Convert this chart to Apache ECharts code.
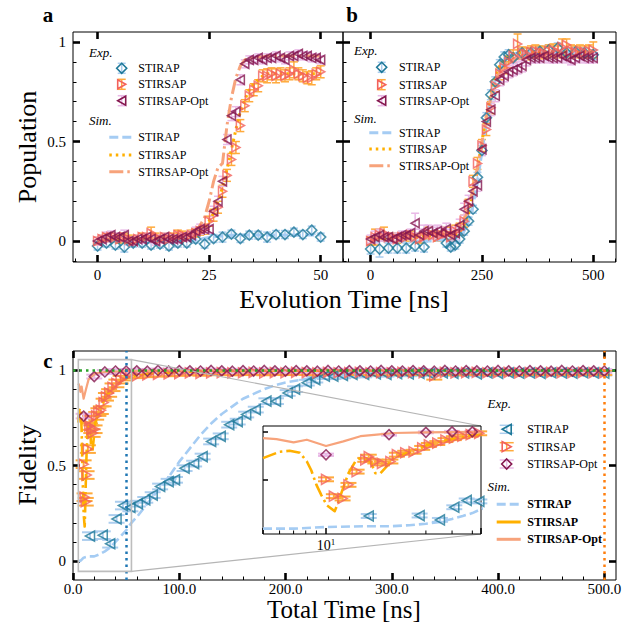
<!DOCTYPE html>
<html>
<head>
<meta charset="utf-8">
<script src="https://cdn.jsdelivr.net/npm/echarts@6/dist/echarts.min.js"></script>
<style>
  html, body { margin: 0; padding: 0; background: #fff; }
  #chart { width: 638px; height: 636px; }
</style>
</head>
<body>
<div id="chart"></div>
<script>
// ---------------- Panel a : population vs evolution time (50 ns) ----------------
const A_X_STIRAP = [0,2,4,6,8,10,12,14,16,18,20,22,24,26,28,30,32,34,36,38,40,42,44,46,48,50];
const A_STIRAP = [-0.025,-0.01,-0.02,-0.03,-0.01,-0.01,-0.02,-0.015,-0.025,-0.01,-0.01,0.01,-0.015,0.013,0.02,0.035,0.013,0.03,0.03,0.02,0.033,0.033,0.045,0.033,0.055,0.02];
const A_ERR_STIRAP = [0.02,0.02,0.02,0.025,0.02,0.02,0.02,0.02,0.02,0.02,0.02,0.02,0.02,0.02,0.025,0.02,0.02,0.02,0.02,0.025,0.02,0.02,0.02,0.02,0.02,0.02];

const A_X = [0,1,2,3,4,5,6,7,8,9,10,11,12,13,14,15,16,17,18,19,20,21,22,23,24,25,26,27,28,29,30,31,32,33,34,35,36,37,38,39,40,41,42,43,44,45,46,47,48,49,50];
const A_STIRSAP = [0.0,0.01,0.02,0.02,0.02,0.01,0.02,0.01,0.0,0.01, 0.02,0.02,0.04,0.02,0.01,0.02,0.01,0.02,0.03,0.03, 0.02,0.03,0.04,0.05,0.06,0.10,0.13,0.17,0.25,0.33, 0.41,0.47,0.58,0.68,0.73,0.76,0.78,0.83,0.83,0.84, 0.83,0.84,0.83,0.84,0.86,0.84,0.83,0.82,0.82,0.84,0.85];
const A_ERR_STIRSAP = [0.02,0.02,0.02,0.025,0.02,0.02,0.02,0.02,0.02,0.02, 0.02,0.02,0.03,0.02,0.02,0.02,0.02,0.02,0.025,0.02, 0.02,0.025,0.02,0.02,0.025,0.025,0.03,0.03,0.03,0.03, 0.03,0.03,0.03,0.03,0.03,0.03,0.03,0.03,0.035,0.03, 0.035,0.03,0.03,0.03,0.04,0.03,0.03,0.03,0.035,0.03,0.03];
const A_OPT = [0.0,0.01,0.02,0.03,0.02,0.02,0.03,0.0,0.0,0.01, 0.01,0.02,0.01,0.0,0.01,0.02,0.01,0.01,0.01,0.02, 0.02,0.03,0.05,0.06,0.06,0.06,0.15,0.20,0.30,0.51, 0.63,0.65,0.81,0.89,0.91,0.91,0.92,0.91,0.92,0.92, 0.93,0.92,0.91,0.93,0.93,0.94,0.93,0.93,0.92,0.92,0.91];
const A_ERR_OPT = [0.02,0.02,0.025,0.02,0.02,0.02,0.025,0.02,0.02,0.02, 0.02,0.02,0.02,0.02,0.02,0.02,0.02,0.02,0.02,0.02, 0.02,0.02,0.02,0.025,0.02,0.02,0.025,0.025,0.025,0.025, 0.025,0.025,0.025,0.02,0.02,0.02,0.02,0.02,0.02,0.02, 0.02,0.02,0.02,0.02,0.02,0.02,0.02,0.02,0.02,0.02,0.02];

const A_SIM_STIRAP = [0,0,0,0,0,0,0,0,0,0, 0,0,0,0,0,0,0,0,0,0, 0,0.002,0.005,0.01,0.014,0.018,0.021,0.024,0.026,0.028, 0.029,0.03,0.03,0.03,0.03,0.03,0.03,0.03,0.03,0.03, 0.03,0.03,0.03,0.03,0.03,0.03,0.03,0.03,0.03,0.03,0.03];
const A_SIM_STIRSAP = [0,0,0.005,0.01,0.01,0.01,0.01,0.01,0.01,0.01, 0.01,0.012,0.012,0.015,0.015,0.015,0.02,0.02,0.02,0.02, 0.025,0.03,0.04,0.05,0.07,0.10,0.14,0.20,0.27,0.36, 0.46,0.56,0.65,0.71,0.76,0.79,0.81,0.83,0.84,0.84, 0.84,0.84,0.84,0.84,0.84,0.84,0.84,0.84,0.84,0.84,0.84];
const A_SIM_OPT = [0,0,0.005,0.01,0.01,0.01,0.01,0.01,0.01,0.01, 0.01,0.012,0.012,0.015,0.015,0.015,0.02,0.02,0.02,0.02, 0.02,0.03,0.05,0.08,0.12,0.20,0.30,0.37,0.39,0.58, 0.72,0.82,0.88,0.91,0.92,0.92,0.925,0.925,0.93,0.93, 0.93,0.93,0.93,0.93,0.93,0.93,0.93,0.93,0.93,0.93,0.93];

// ---------------- Panel b : population vs evolution time (500 ns) ----------------
const B_X_STIRAP = [0,20,40,60,80,100,120,170,180,190,200,210,220,230,240,250,260,270,280,290,300,310,320,340,360,380,400,420,440,460,480,500];
const B_STIRAP = [-0.04,-0.04,-0.035,-0.035,-0.035,-0.025,-0.03,-0.01,-0.03,-0.02,0.01,0.05,0.10,0.16,0.32,0.455,0.62,0.735,0.80,0.886,0.925,0.936,0.92,0.945,0.945,0.953,0.96,0.97,0.945,0.95,0.945,0.936];
const B_ERR_STIRAP = [0.025,0.04,0.025,0.025,0.025,0.025,0.025,0.02,0.02,0.02,0.02,0.02,0.02,0.02,0.025,0.025,0.025,0.025,0.025,0.025,0.025,0.025,0.025,0.025,0.025,0.025,0.025,0.025,0.025,0.025,0.025,0.025];

const B_X = [0,10,20,30,40,50,60,70,80,90,100,110,120,130,140,150,160,170,180,190,200,210,220,230,240,250,260,270,280,290,300,310,320,330,340,350,360,370,380,390,400,410,420,430,440,450,460,470,480,490,500];
const B_STIRSAP = [0.0,0.02,0.03,0.04,0.02,0.02,0.01,0.02,0.02,0.03, 0.02,0.01,0.02,0.04,0.03,0.02,0.03,0.04,0.02,0.05, 0.06,0.10,0.18,0.30,0.39,0.48,0.56,0.67,0.78,0.84, 0.87,0.90,0.93,0.99,0.945,0.94,0.95,0.955,0.95,0.945, 0.955,0.96,0.95,0.975,0.985,0.955,0.95,0.955,0.95,0.955,0.96];
const B_ERR_STIRSAP = [0.02,0.04,0.03,0.03,0.02,0.02,0.02,0.02,0.02,0.02, 0.02,0.02,0.02,0.03,0.02,0.02,0.02,0.03,0.02,0.03, 0.03,0.03,0.03,0.03,0.03,0.03,0.03,0.03,0.03,0.03, 0.03,0.03,0.03,0.05,0.03,0.03,0.03,0.03,0.03,0.03, 0.03,0.03,0.03,0.04,0.03,0.03,0.03,0.03,0.03,0.03,0.04];
const B_OPT = [0.01,0.02,0.03,0.02,0.02,0.01,0.02,0.03,0.03,0.04, 0.09,0.03,0.05,0.05,0.04,0.05,0.04,0.06,0.03,0.04, 0.08,0.16,0.20,0.25,0.28,0.46,0.60,0.66,0.73,0.81, 0.83,0.85,0.86,0.87,0.88,0.91,0.92,0.92,0.92,0.93, 0.92,0.92,0.92,0.93,0.92,0.91,0.92,0.93,0.92,0.92,0.92];
const B_ERR_OPT = [0.02,0.03,0.03,0.02,0.02,0.02,0.02,0.02,0.02,0.02, 0.05,0.03,0.03,0.03,0.03,0.03,0.03,0.03,0.03,0.03, 0.03,0.03,0.03,0.03,0.03,0.03,0.03,0.03,0.03,0.03, 0.03,0.03,0.03,0.03,0.03,0.03,0.025,0.025,0.025,0.025, 0.025,0.025,0.025,0.025,0.025,0.025,0.025,0.025,0.025,0.025,0.025];

const B_SIM_STIRAP = [0,0,0,0,0,0,0,0,0,0, 0,0,0,0,0,0.005,0.005,0.01,0.01,0.015, 0.025,0.05,0.10,0.18,0.30,0.45,0.60,0.72,0.81,0.87, 0.91,0.93,0.94,0.945,0.948,0.95,0.95,0.95,0.95,0.95, 0.95,0.95,0.95,0.95,0.95,0.95,0.95,0.95,0.95,0.95,0.95];
const B_SIM_STIRSAP = [0,0.005,0.01,0.01,0.015,0.015,0.02,0.02,0.02,0.02, 0.02,0.02,0.025,0.025,0.025,0.025,0.03,0.03,0.03,0.035, 0.045,0.08,0.14,0.24,0.36,0.50,0.63,0.74,0.82,0.88, 0.91,0.93,0.94,0.945,0.95,0.95,0.95,0.95,0.95,0.95, 0.95,0.95,0.95,0.95,0.95,0.95,0.95,0.95,0.95,0.95,0.95];
const B_SIM_OPT = [0,0.01,0.015,0.02,0.02,0.025,0.025,0.03,0.03,0.03, 0.03,0.035,0.035,0.035,0.04,0.04,0.04,0.045,0.045,0.05, 0.06,0.10,0.17,0.26,0.37,0.50,0.62,0.72,0.80,0.85, 0.88,0.90,0.91,0.915,0.92,0.92,0.92,0.92,0.925,0.925, 0.925,0.925,0.925,0.925,0.925,0.925,0.925,0.925,0.925,0.925,0.925];

// ---------------- Panel c : fidelity vs total time ----------------
const C_X_STIRAP = [16,28,35,41,47,54,61,68,75,82,90,96,105,114,122,130,139,147,155,163,172,182,191,202,209,220,228,237,245,254,263,274, 285,295,305,316,326,336,348,358,368,380,390,400,410,420,430,440,450,460,470,480,490,500];
const C_STIRAP = [0.13,0.135,0.09,0.22,0.29,0.28,0.30,0.32,0.345,0.39,0.415,0.425,0.486,0.51,0.547,0.626,0.653,0.714,0.73,0.767,0.793,0.837,0.837,0.88,0.90,0.934,0.95,0.968,0.968,0.972,0.977,0.977, 0.98,0.978,0.982,0.98,0.983,0.98,0.985,0.983,0.985,0.98,0.985,0.983,0.986,0.984,0.985,0.983,0.986,0.985,0.984,0.986,0.985,0.984];
const C_ERR_STIRAP = [0.02,0.02,0.02,0.02,0.02,0.02,0.015,0.015,0.015,0.015,0.015,0.015,0.015,0.015,0.015,0.015,0.015,0.015,0.015,0.015,0.015,0.015,0.015,0.015,0.015,0.015,0.015,0.015,0.015,0.015,0.015,0.015, 0.012,0.012,0.012,0.012,0.012,0.012,0.012,0.012,0.012,0.012,0.012,0.012,0.012,0.012,0.012,0.012,0.012,0.012,0.012,0.012,0.012,0.012];

const C_X_STIRSAP = [10,10.9,12,12.8,14,15.4,16,17.2,18.5,20.3,21.8,23.9,26.2,28.8,31,34,37.2,40.8,44.8,49.1,53.9, 60,70,80,90,100,110,120,130,140,150,160,170,180,190,200,210,220,230,240,250,260,270,280,290,300,310,320,330,340,350,360,370,380,390,400,410,420,430,440,450,460,470,480,490,500];
const C_STIRSAP = [0.507,0.334,0.31,0.45,0.586,0.707,0.74,0.69,0.67,0.69,0.76,0.78,0.79,0.83,0.86,0.88,0.91,0.93,0.95,0.966,0.98, 0.97,0.975,0.978,0.98,0.982,0.985,0.983,0.985,0.987,0.985, 0.986,0.988,0.985,0.987,0.986,0.988,0.987,0.985,0.988,0.986, 0.987,0.988,0.985,0.987,0.986,0.988,0.987,0.986,0.97,0.988, 0.985,0.987,0.988,0.986,0.987,0.988,0.985,0.987,0.986,0.988, 0.987,0.986,0.988,0.987,0.986];
const C_ERR_STIRSAP = [0.02,0.02,0.02,0.02,0.02,0.02,0.02,0.02,0.02,0.02,0.02,0.02,0.02,0.02,0.02,0.02,0.02,0.02,0.02,0.02,0.02, 0.012,0.012,0.012,0.012,0.012,0.012,0.012,0.012,0.012,0.012, 0.012,0.012,0.012,0.012,0.012,0.012,0.012,0.012,0.012,0.012, 0.012,0.012,0.012,0.012,0.012,0.012,0.012,0.012,0.02,0.012, 0.012,0.012,0.012,0.012,0.012,0.012,0.012,0.012,0.012,0.012, 0.012,0.012,0.012,0.012,0.012];

const C_X_OPT = [10,20,30,40,50,60,70,80,90,100,110,120,130,140,150,160,170,180,190,200,210,220,230,240,250,260,270,280,290,300,310,320,330,340,350,360,370,380,390,400,410,420,430,440,450,460,470,480,490,500];
const C_OPT = [0.759,0.966,0.99,0.995,0.995,0.996,0.994,0.998,0.995,0.997, 0.996,0.995,0.998,0.996,0.994,0.997,0.995,0.998,0.996,0.995, 0.997,0.996,0.994,0.998,0.995,0.997,0.996,0.995,0.998,0.996, 0.995,0.997,0.996,0.994,0.998,0.995,0.997,0.996,0.995,0.998, 0.996,0.995,0.997,0.996,0.994,0.998,0.995,0.997,0.996,0.995];
const C_ERR_OPT = [0.012,0.01,0.01,0.01,0.01,0.01,0.01,0.01,0.01,0.01, 0.01,0.01,0.01,0.01,0.01,0.01,0.01,0.01,0.01,0.01, 0.01,0.01,0.01,0.01,0.01,0.01,0.01,0.01,0.01,0.01, 0.01,0.01,0.01,0.01,0.01,0.01,0.01,0.01,0.01,0.01, 0.01,0.01,0.01,0.01,0.01,0.01,0.01,0.01,0.01,0.01];

const C_SIM_X_STIRAP = [5,7,10,15,20,25,30,35,40,45,50,55,60,70,80,90,100,110,120,130,140,150,160,170,180,190,200,220,240,260,280,300,350,400,450,500];
const C_SIM_STIRAP = [0.0,0.0,0.017,0.024,0.024,0.035,0.05,0.07,0.10,0.13,0.16,0.20,0.23,0.30,0.37,0.44,0.52,0.59,0.66,0.72,0.77,0.81,0.85,0.875,0.90,0.92,0.935,0.955,0.968,0.976,0.982,0.986,0.991,0.994,0.996,0.997];
const C_SIM_X_STIRSAP = [5,6,6.7,7.5,8.1,8.5,9,9.5,10.1,11,11.4,11.9,12.8,13.8,14.6,16.3,17.2,18.2,19.5,21,25.3,30.4,37.9,47.3,54.8,70,100,150,200,300,400,500];
const C_SIM_STIRSAP = [0.725,0.79,0.80,0.78,0.69,0.60,0.45,0.345,0.24,0.18,0.26,0.38,0.57,0.69,0.725,0.69,0.57,0.57,0.64,0.725,0.79,0.86,0.91,0.95,0.966,0.98,0.99,0.995,0.997,0.998,0.999,0.999];
const C_SIM_X_OPT = [5,5.8,7,8.1,10,12.1,14.6,17.5,21,30,50,100,200,500];
const C_SIM_OPT = [0.93,0.92,0.886,0.914,0.85,0.897,0.95,0.966,0.983,0.99,0.995,0.998,0.999,1.0];

// reference guides in panel c: target fidelity and two marked durations
const C_TARGET = 1;
const C_MARK_SHORT = 50;
const C_MARK_LONG = 500;

// axis limits and tick values
const A_XLIM = [-5.5, 55];
const B_XLIM = [-62, 551];
const AB_YLIM = [-0.105, 1.05];
const C_XLIM = [0, 511];
const C_YLIM = [-0.1, 1.1];
const INSET_X = [5, 55];
const INSET_Y = [-0.055, 1.055];

const A_XTICKS = [0, 25, 50];
const A_XMINOR = [-5, 5, 10, 15, 20, 30, 35, 40, 45, 55];
const B_XTICKS = [0, 250, 500];
const B_XMINOR = [-50, 50, 100, 150, 200, 300, 350, 400, 450, 550];
const AB_YTICKS = [0, 0.5, 1];
const AB_YMINOR = [-0.1, 0.1, 0.2, 0.3, 0.4, 0.6, 0.7, 0.8, 0.9];
const C_XTICKS = [0, 100, 200, 300, 400, 500];
const C_XMINOR = [20, 40, 60, 80, 120, 140, 160, 180, 220, 240, 260, 280, 320, 340, 360, 380, 420, 440, 460, 480];
const C_YTICKS = [0, 0.5, 1];
const C_YMINOR = [0.1, 0.2, 0.3, 0.4, 0.6, 0.7, 0.8, 0.9];
const INSET_YTICKS = [0, 0.5, 1];
const INSET_XMINOR = [6, 7, 8, 9, 20, 30, 40, 50];

// ---------------- styling ----------------
const FONT = 'Liberation Serif';
const COL = {
  teal: '#1d7898', red: '#f3625b', plum: '#85174f',
  errBlue: '#abcdee', errOrange: '#ffaa3c', errPink: '#e9b8e6',
  simBlue: '#a5ccf3', simOrange: '#ffb000', simSalmon: '#f7a37b',
  green: '#2ca02c', dotBlue: '#1f77b4', dotOrange: '#ff7f0e', zoomGray: '#bdbdbd'
};
const SYM = {
  left: 'path://M0,5L8.66,0L8.66,10Z',
  right: 'path://M8.66,5L0,0L0,10Z',
  diamond: 'diamond'
};
const DASH = { dashed: [9, 4], dotted: [2.5, 4], dashdot: [14, 4, 2.5, 4] };

const zip = (xs, ys) => xs.map((x, i) => [x, ys[i]]);
const trip = (xs, ys, es) => xs.map((x, i) => [x, ys[i], es[i]]);
const inInset = p => p[0] >= INSET_X[0] && p[0] <= INSET_X[1];

// ---------------- axes ----------------
function valueAxis(dim, grid, lim, ticks, labels, fmt, pos, minor, z, margin) {
  return {
    type: 'value', gridIndex: grid, min: lim[0], max: lim[1], position: pos, z: z || 0,
    axisLine: { show: false, onZero: false },
    splitLine: { show: false },
    minorTick: { show: false },
    axisTick: { show: true, inside: true, customValues: ticks, length: minor ? 3.5 : 7,
                lineStyle: { color: '#000', width: minor ? 1 : 2.6 } },
    axisLabel: labels ? { show: true, customValues: labels, formatter: fmt, fontFamily: FONT,
                          fontSize: 15, color: '#000',
                          margin: margin != null ? margin : (dim === 'x' ? 4 : 7) }
                      : { show: false }
  };
}
const fmtPlain = v => String(v);
const fmtOne = v => v.toFixed(1);

const xAxis = [
  valueAxis('x', 0, A_XLIM, A_XTICKS, A_XTICKS, fmtPlain, 'bottom', false, 0, 5),
  valueAxis('x', 1, B_XLIM, B_XTICKS, B_XTICKS, fmtPlain, 'bottom', false, 0, 5),
  valueAxis('x', 2, C_XLIM, C_XTICKS, C_XTICKS, fmtOne, 'bottom', false, 0, 1),
  {
    type: 'log', logBase: 10, gridIndex: 3, min: INSET_X[0], max: INSET_X[1], position: 'bottom', z: 15,
    axisLine: { show: false, onZero: false }, splitLine: { show: false }, minorTick: { show: false },
    axisTick: { show: true, inside: true, length: 6, lineStyle: { color: '#000', width: 1.5 } },
    axisLabel: {
      show: true, margin: 3, color: '#000',
      formatter: v => (Math.abs(v - 10) < 1e-6 ? '{b|10}{s|1}' : ''),
      rich: {
        b: { fontFamily: FONT, fontSize: 14, color: '#000' },
        s: { fontFamily: FONT, fontSize: 9, color: '#000', padding: [0, 0, 8, 0] }
      }
    }
  },
  valueAxis('x', 0, A_XLIM, A_XMINOR, null, null, 'bottom', true),
  valueAxis('x', 0, A_XLIM, A_XTICKS, null, null, 'top'),
  valueAxis('x', 1, B_XLIM, B_XMINOR, null, null, 'bottom', true),
  valueAxis('x', 1, B_XLIM, B_XTICKS, null, null, 'top'),
  valueAxis('x', 2, C_XLIM, C_XMINOR, null, null, 'bottom', true),
  valueAxis('x', 2, C_XLIM, C_XTICKS, null, null, 'top')
];
const insetY = valueAxis('y', 3, INSET_Y, INSET_YTICKS, null, null, 'left', false, 15);
insetY.axisTick.length = 5;
insetY.axisTick.lineStyle.width = 1.5;
const yAxis = [
  valueAxis('y', 0, AB_YLIM, AB_YTICKS, AB_YTICKS, fmtPlain, 'left'),
  valueAxis('y', 1, AB_YLIM, AB_YTICKS, null, null, 'left'),
  valueAxis('y', 2, C_YLIM, C_YTICKS, C_YTICKS, fmtPlain, 'left'),
  insetY,
  valueAxis('y', 0, AB_YLIM, AB_YMINOR, null, null, 'left', true),
  valueAxis('y', 0, AB_YLIM, AB_YTICKS, null, null, 'right'),
  valueAxis('y', 1, AB_YLIM, AB_YMINOR, null, null, 'left', true),
  valueAxis('y', 1, AB_YLIM, AB_YTICKS, null, null, 'right'),
  valueAxis('y', 2, C_YLIM, C_YMINOR, null, null, 'left', true),
  valueAxis('y', 2, C_YLIM, C_YTICKS, null, null, 'right')
];

// ---------------- series builders ----------------
function errorBars(ax, data, color, capHalf, z, width) {
  return {
    type: 'custom', xAxisIndex: ax, yAxisIndex: ax, z: z, silent: true, animation: false,
    encode: { x: 0, y: 1 }, data: data,
    renderItem(params, api) {
      const x = api.value(0), y = api.value(1), e = api.value(2);
      const t = api.coord([x, y + e]), b = api.coord([x, y - e]);
      const style = { stroke: color, lineWidth: width || 1.5 };
      return { type: 'group', children: [
        { type: 'line', shape: { x1: t[0], y1: t[1], x2: b[0], y2: b[1] }, style },
        { type: 'line', shape: { x1: t[0] - capHalf, y1: t[1], x2: t[0] + capHalf, y2: t[1] }, style },
        { type: 'line', shape: { x1: b[0] - capHalf, y1: b[1], x2: b[0] + capHalf, y2: b[1] }, style }
      ] };
    }
  };
}
function markers(ax, data, sym, size, color, z) {
  return {
    type: 'scatter', xAxisIndex: ax, yAxisIndex: ax, z: z, silent: true, animation: false,
    symbol: sym, symbolSize: size, data: data,
    itemStyle: { color: 'rgba(255,255,255,0)', borderColor: color, borderWidth: 1.6 }
  };
}
function simLine(ax, data, color, width, dash, z) {
  return {
    type: 'line', xAxisIndex: ax, yAxisIndex: ax, z: z, silent: true, animation: false,
    data: data, showSymbol: false, symbol: 'none', clip: true,
    lineStyle: { color: color, width: width, type: dash, cap: 'butt', join: 'round' }
  };
}
function guides(ax, z) {
  return {
    type: 'line', xAxisIndex: ax, yAxisIndex: ax, z: z, silent: true, animation: false, data: [],
    markLine: {
      silent: true, symbol: ['none', 'none'], label: { show: false }, animation: false,
      data: [
        { yAxis: C_TARGET, lineStyle: { color: COL.green, width: 2.5, type: DASH.dotted } },
        { xAxis: C_MARK_SHORT, lineStyle: { color: COL.dotBlue, width: 2.5, type: DASH.dotted } },
        { xAxis: C_MARK_LONG, lineStyle: { color: COL.dotOrange, width: 2.5, type: DASH.dotted } }
      ]
    }
  };
}

const TRI = [8, 9], DIA = [10, 10], TRI_C = [9, 10];
const series = [];

// panel a
series.push(errorBars(0, trip(A_X_STIRAP, A_STIRAP, A_ERR_STIRAP), COL.errBlue, 4, 2));
series.push(errorBars(0, trip(A_X, A_STIRSAP, A_ERR_STIRSAP), COL.errOrange, 4, 2));
series.push(errorBars(0, trip(A_X, A_OPT, A_ERR_OPT), COL.errPink, 4, 2));
series.push(simLine(0, zip(A_X, A_SIM_STIRAP), COL.simBlue, 3, DASH.dashed, 3));
series.push(simLine(0, zip(A_X, A_SIM_STIRSAP), COL.simOrange, 3, DASH.dotted, 3));
series.push(simLine(0, zip(A_X, A_SIM_OPT), COL.simSalmon, 3, DASH.dashdot, 3));
series.push(markers(0, zip(A_X_STIRAP, A_STIRAP), SYM.diamond, DIA, COL.teal, 4));
series.push(markers(0, zip(A_X, A_STIRSAP), SYM.right, TRI, COL.red, 4));
series.push(markers(0, zip(A_X, A_OPT), SYM.left, TRI, COL.plum, 4));

// panel b
series.push(errorBars(1, trip(B_X_STIRAP, B_STIRAP, B_ERR_STIRAP), COL.errBlue, 4, 2));
series.push(errorBars(1, trip(B_X, B_STIRSAP, B_ERR_STIRSAP), COL.errOrange, 4, 2));
series.push(errorBars(1, trip(B_X, B_OPT, B_ERR_OPT), COL.errPink, 4, 2));
series.push(simLine(1, zip(B_X, B_SIM_STIRAP), COL.simBlue, 3, DASH.dashed, 3));
series.push(simLine(1, zip(B_X, B_SIM_STIRSAP), COL.simOrange, 3, DASH.dotted, 3));
series.push(simLine(1, zip(B_X, B_SIM_OPT), COL.simSalmon, 3, DASH.dashdot, 3));
series.push(markers(1, zip(B_X_STIRAP, B_STIRAP), SYM.diamond, DIA, COL.teal, 4));
series.push(markers(1, zip(B_X, B_STIRSAP), SYM.right, TRI, COL.red, 4));
series.push(markers(1, zip(B_X, B_OPT), SYM.left, TRI, COL.plum, 4));

// panel c (main) and its zoomed inset
const cStirapErr = trip(C_X_STIRAP, C_STIRAP, C_ERR_STIRAP);
const cStirsapErr = trip(C_X_STIRSAP, C_STIRSAP, C_ERR_STIRSAP);
const cOptErr = trip(C_X_OPT, C_OPT, C_ERR_OPT);
[2, 3].forEach(ax => {
  const inset = ax === 3;
  const zb = inset ? 20 : 0;
  const pick = d => (inset ? d.filter(inInset) : d);
  series.push(guides(ax, zb + 2));
  series.push(errorBars(ax, pick(cStirapErr), COL.errBlue, 8, zb + 2, 2));
  series.push(errorBars(ax, pick(cStirsapErr), COL.errOrange, 8, zb + 2, 2));
  series.push(errorBars(ax, pick(cOptErr), COL.errPink, 8, zb + 2, 2));
  series.push(simLine(ax, zip(C_SIM_X_STIRAP, C_SIM_STIRAP), COL.simBlue, 2.6, DASH.dashed, zb + 3));
  series.push(simLine(ax, zip(C_SIM_X_STIRSAP, C_SIM_STIRSAP), COL.simOrange, 2.6, DASH.dashdot, zb + 3));
  series.push(simLine(ax, zip(C_SIM_X_OPT, C_SIM_OPT), COL.simSalmon, 2.2, 'solid', zb + 3));
  series.push(markers(ax, pick(zip(C_X_STIRAP, C_STIRAP)), SYM.left, TRI_C, COL.teal, zb + 4));
  series.push(markers(ax, pick(zip(C_X_STIRSAP, C_STIRSAP)), SYM.right, TRI_C, COL.red, zb + 4));
  series.push(markers(ax, pick(zip(C_X_OPT, C_OPT)), SYM.diamond, DIA, COL.plum, zb + 4));
});

// zoom window outline in the main axes of panel c
series.push({
  type: 'custom', xAxisIndex: 2, yAxisIndex: 2, z: 5, silent: true, animation: false,
  encode: { x: [0, 2], y: [1, 3] },
  data: [[INSET_X[0], INSET_Y[0], INSET_X[1], INSET_Y[1]]],
  renderItem(params, api) {
    const p0 = api.coord([api.value(0), api.value(1)]);
    const p1 = api.coord([api.value(2), api.value(3)]);
    return { type: 'rect', shape: { x: p0[0], y: p1[1], width: p1[0] - p0[0], height: p0[1] - p1[1] },
             style: { fill: 'none', stroke: COL.zoomGray, lineWidth: 1.6 } };
  }
});
// log-scale minor ticks of the inset
series.push({
  type: 'custom', xAxisIndex: 3, yAxisIndex: 3, z: 30, silent: true, animation: false,
  encode: { x: 0 }, data: INSET_XMINOR.map(v => [v]),
  renderItem(params, api) {
    const p = api.coord([api.value(0), INSET_Y[0]]);
    return { type: 'line', shape: { x1: p[0], y1: p[1], x2: p[0], y2: p[1] - 3.5 },
             style: { stroke: '#000', lineWidth: 1 } };
  }
});

// ---------------- text, legends ----------------
function gText(x, y, text, o) {
  o = o || {};
  const align = o.align || 'left';
  return { type: 'text', z: 60, x: x, y: y, rotation: o.rot || 0, silent: true,
    style: { text: text, fill: '#000', fontFamily: FONT, fontSize: o.size || 12,
             fontWeight: o.weight || 'normal', fontStyle: o.style || 'normal',
             align: align, verticalAlign: 'middle', textAlign: align, textVerticalAlign: 'middle' } };
}
function gMarker(kind, x, y, color, w, h) {
  let pts;
  if (kind === 'left') pts = [[x - w / 2, y], [x + w / 2, y - h / 2], [x + w / 2, y + h / 2]];
  else if (kind === 'right') pts = [[x + w / 2, y], [x - w / 2, y - h / 2], [x - w / 2, y + h / 2]];
  else pts = [[x, y - h / 2], [x + w / 2, y], [x, y + h / 2], [x - w / 2, y]];
  return { type: 'polygon', z: 61, silent: true, shape: { points: pts },
           style: { fill: 'none', stroke: color, lineWidth: 1.6 } };
}
function gSeg(x1, y1, x2, y2, color, width, dash, z) {
  return { type: 'line', z: z || 60, silent: true, shape: { x1, y1, x2, y2 },
           style: { stroke: color, lineWidth: width, lineDash: dash || null } };
}
function gErr(x, y, half, cap, color) {
  return [gSeg(x, y - half, x, y + half, color, 1.5),
          gSeg(x - cap, y - half, x + cap, y - half, color, 1.5),
          gSeg(x - cap, y + half, x + cap, y + half, color, 1.5)];
}

const LABELS = ['STIRAP', 'STIRSAP', 'STIRSAP-Opt'];
function legend(L) {
  const out = [];
  out.push(gText(L.x0, L.expY, 'Exp.', { size: 13, style: 'italic' }));
  L.rows.forEach((y, i) => {
    const m = L.markers[i];
    out.push(...gErr(L.mx, y, L.errHalf, L.cap, m.err));
    out.push(gMarker(m.kind, L.mx, y, m.color, m.w, m.h));
    out.push(gText(L.tx, y, LABELS[i]));
  });
  out.push(gText(L.x0, L.simY, 'Sim.', { size: 13, style: 'italic' }));
  L.simRows.forEach((y, i) => {
    const s = L.lines[i];
    out.push(gSeg(L.lx1, y, L.lx2, y, s.color, 3, s.dash));
    out.push(gText(L.tx, y, LABELS[i], { weight: L.simBold ? 'bold' : 'normal' }));
  });
  return out;
}
const abMarkers = [
  { kind: 'diamond', color: COL.teal, err: COL.errBlue, w: 10, h: 10 },
  { kind: 'right', color: COL.red, err: COL.errOrange, w: 8, h: 9 },
  { kind: 'left', color: COL.plum, err: COL.errPink, w: 8, h: 9 }
];
const abLines = [
  { color: COL.simBlue, dash: DASH.dashed },
  { color: COL.simOrange, dash: DASH.dotted },
  { color: COL.simSalmon, dash: DASH.dashdot }
];
const graphics = [];
graphics.push(...legend({ x0: 89, expY: 52, mx: 121.7, tx: 138.3, rows: [68.3, 84.3, 100.7], errHalf: 5, cap: 4,
  markers: abMarkers, simY: 120, lx1: 109.3, lx2: 132.7, simRows: [137.3, 155, 171.7], lines: abLines }));
graphics.push(...legend({ x0: 354, expY: 50, mx: 381.7, tx: 399, rows: [67.3, 84.7, 100.7], errHalf: 5, cap: 4,
  markers: abMarkers, simY: 118.3, lx1: 369.3, lx2: 393.3, simRows: [132.7, 149, 165.7], lines: abLines }));
graphics.push(...legend({ x0: 487.5, expY: 403, mx: 506.7, tx: 527.3, rows: [429.3, 446.7, 464], errHalf: 4, cap: 7,
  markers: [
    { kind: 'left', color: COL.teal, err: COL.errBlue, w: 9, h: 10 },
    { kind: 'right', color: COL.red, err: COL.errOrange, w: 9, h: 10 },
    { kind: 'diamond', color: COL.plum, err: COL.errPink, w: 10, h: 10 }
  ],
  simY: 486.7, lx1: 496.7, lx2: 520.7, simRows: [504.3, 522, 539.3], simBold: true,
  lines: [
    { color: COL.simBlue, dash: DASH.dashed },
    { color: COL.simOrange, dash: null },
    { color: COL.simSalmon, dash: null }
  ] }));

// panel letters and axis titles
graphics.push(gText(48, 15, 'a', { size: 21, weight: 'bold', align: 'center' }));
graphics.push(gText(352, 15, 'b', { size: 21, weight: 'bold', align: 'center' }));
graphics.push(gText(48, 361, 'c', { size: 21, weight: 'bold', align: 'center' }));
graphics.push(gText(27, 147, 'Population', { size: 26, align: 'center', rot: Math.PI / 2 }));
graphics.push(gText(344, 299, 'Evolution Time [ns]', { size: 26, align: 'center' }));
graphics.push(gText(27, 465, 'Fidelity', { size: 26, align: 'center', rot: Math.PI / 2 }));
graphics.push(gText(344, 609, 'Total Time [ns]', { size: 25, align: 'center' }));

// ---------------- chart ----------------
const chart = echarts.init(document.getElementById('chart'), null, { renderer: 'svg', width: 638, height: 636 });
const gridBox = (left, top, width, height, extra) => Object.assign(
  { left, top, width, height, show: true, borderColor: '#000', borderWidth: 1, backgroundColor: 'transparent', containLabel: false },
  extra || {});
chart.setOption({
  animation: false,
  backgroundColor: '#fff',
  textStyle: { fontFamily: FONT },
  grid: [
    gridBox(73, 32, 270, 230),
    gridBox(343, 32, 273, 230),
    gridBox(73, 351, 543, 229),
    gridBox(263, 426, 218, 108, { backgroundColor: '#fff', z: 10 })
  ],
  xAxis: xAxis,
  yAxis: yAxis,
  series: series,
  graphic: graphics
});

// connectors from the zoom window to the inset corners
const mainTop = chart.convertToPixel({ gridIndex: 2 }, [INSET_X[1], INSET_Y[1]]);
const mainBot = chart.convertToPixel({ gridIndex: 2 }, [INSET_X[1], INSET_Y[0]]);
const insTop = chart.convertToPixel({ gridIndex: 3 }, [INSET_X[1], INSET_Y[1]]);
const insBot = chart.convertToPixel({ gridIndex: 3 }, [INSET_X[1], INSET_Y[0]]);
graphics.push(gSeg(mainTop[0], mainTop[1], insTop[0], insTop[1], '#b5b5b5', 1.2, null, 5));
graphics.push(gSeg(mainBot[0], mainBot[1], insBot[0], insBot[1], '#b5b5b5', 1.2, null, 5));
chart.setOption({ graphic: graphics });
</script>
</body>
</html>
